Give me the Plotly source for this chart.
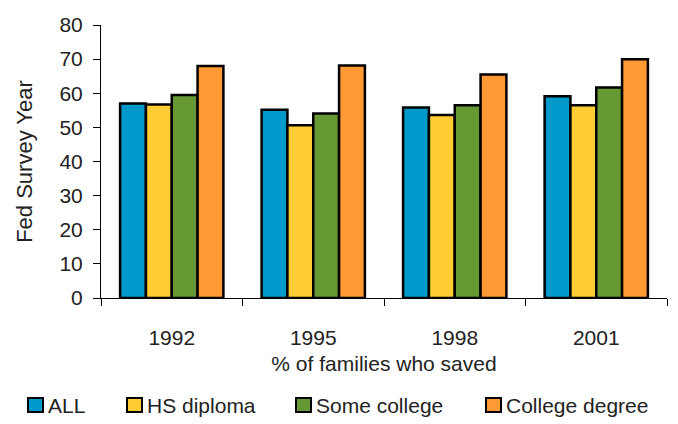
import plotly.graph_objects as go

years = ["1992", "1995", "1998", "2001"]
series_names = ["ALL", "HS diploma", "Some college", "College degree"]
all_families = [57.0, 55.2, 55.8, 59.1]
hs_diploma = [56.7, 50.6, 53.6, 56.5]
some_college = [59.5, 54.1, 56.5, 61.7]
college_degree = [68.0, 68.1, 65.5, 70.0]
colors = ["#0099CC", "#FFCC33", "#669933", "#FF9933"]

font_family = "Liberation Sans, Arial, sans-serif"
text_color = "#222222"

W, H = 678, 424
M_L, M_R, M_T, M_B = 101, 11, 25, 126
plot_w = W - M_L - M_R
plot_h = H - M_T - M_B


def px_to_paper_x(px):
    return (px - M_L) / plot_w


def px_to_paper_y(py):
    return (H - M_B - py) / plot_h


fig = go.Figure()
for name, values, color in zip(series_names,
                               [all_families, hs_diploma, some_college, college_degree],
                               colors):
    fig.add_trace(go.Bar(
        x=years, y=values, name=name, showlegend=False,
        marker=dict(color=color, line=dict(color="black", width=2.5)),
    ))

# Legend row below the chart: swatch followed closely by its label
legend_left = [28, 127, 296, 486]
legend_cy = 405
swatch_w, swatch_h = 15, 14
for left, name, color in zip(legend_left, series_names, colors):
    fig.add_shape(
        type="rect", xref="paper", yref="paper",
        x0=px_to_paper_x(left), x1=px_to_paper_x(left + swatch_w),
        y0=px_to_paper_y(legend_cy + swatch_h / 2),
        y1=px_to_paper_y(legend_cy - swatch_h / 2),
        fillcolor=color, line=dict(color="black", width=2),
    )
    fig.add_annotation(
        xref="paper", yref="paper",
        x=px_to_paper_x(left + swatch_w + 3), y=px_to_paper_y(legend_cy),
        xanchor="left", yanchor="middle", showarrow=False,
        text=name, font=dict(size=21, color=text_color),
    )

fig.update_layout(
    width=W, height=H,
    margin=dict(l=M_L, r=M_R, t=M_T, b=M_B),
    paper_bgcolor="white", plot_bgcolor="white",
    barmode="group", bargap=0.27, bargroupgap=0,
    font=dict(family=font_family, size=21, color=text_color),
    showlegend=False,
    xaxis=dict(
        showline=True, linecolor="black", linewidth=1,
        ticks="outside", tickson="boundaries", ticklen=7, tickcolor="black",
        ticklabelstandoff=21,
        title=dict(text="% of families who saved", standoff=8,
                   font=dict(size=21)),
        showgrid=False,
    ),
    yaxis=dict(
        range=[0, 80], dtick=10, showline=True, linecolor="black", linewidth=1,
        ticks="outside", ticklen=7, tickcolor="black", showgrid=False,
        zeroline=False, ticklabelstandoff=6,
        title=dict(text="Fed Survey Year", standoff=20, font=dict(size=22)),
    ),
)

fig.write_html("out.html")
